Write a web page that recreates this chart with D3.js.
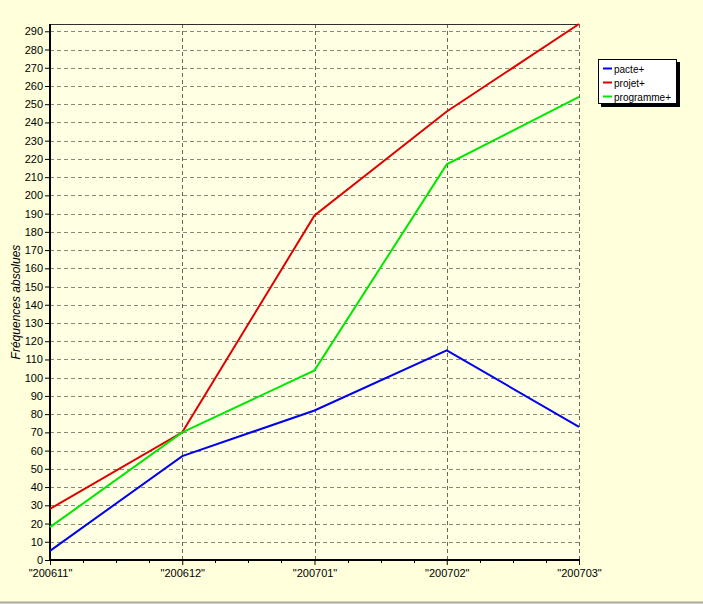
<!DOCTYPE html>
<html>
<head>
<meta charset="utf-8">
<script src="https://cdn.jsdelivr.net/npm/d3@7"></script>
<style>
  html, body { margin: 0; padding: 0; background: #ffffdc; }
  svg { display: block; font-family: "Liberation Sans", Arial, sans-serif; }
</style>
</head>
<body>
<svg id="chart" width="703" height="604"></svg>
<script>
const categories = ['"200611"', '"200612"', '"200701"', '"200702"', '"200703"'];
const seriesNames = ["pacte+", "projet+", "programme+"];
const seriesColors = ["#0000ee", "#e00000", "#00e800"];
const pacteValues = [5, 57, 82, 115, 73];
const projetValues = [28, 70, 189, 246, 294];
const programmeValues = [18, 70, 104, 217, 254];
const yTicks = d3.range(0, 291, 10);
const yLabel = "Fréquences absolues";

const series = [pacteValues, projetValues, programmeValues].map((v, i) => ({
  name: seriesNames[i], color: seriesColors[i], values: v
}));

const svg = d3.select("#chart");
const W = 703, H = 604;
const m = { left: 50, right: 579, top: 24, bottom: 560 };

svg.append("rect").attr("width", W).attr("height", H).attr("fill", "#ffffdc");
svg.append("line").attr("x1", 0).attr("x2", W).attr("y1", 602.5).attr("y2", 602.5)
  .attr("stroke", "#a8a8a0").attr("stroke-width", 2);

const x = d3.scalePoint().domain(categories).range([m.left, m.right]);
const y = d3.scaleLinear().domain([0, 294]).range([m.bottom, m.top]);

// plot area
svg.append("rect").attr("x", m.left).attr("y", m.top)
  .attr("width", m.right - m.left).attr("height", m.bottom - m.top)
  .attr("fill", "#ffffe4");

// horizontal grid
svg.append("g").selectAll("line").data(yTicks.filter(d => d > 0)).join("line")
  .attr("x1", m.left).attr("x2", m.right)
  .attr("y1", d => Math.round(y(d)) + 0.5).attr("y2", d => Math.round(y(d)) + 0.5)
  .attr("stroke", "#8a8a78").attr("stroke-dasharray", "4,3");

// vertical grid
svg.append("g").selectAll("line").data(categories.slice(1)).join("line")
  .attr("x1", d => Math.round(x(d)) + 0.5).attr("x2", d => Math.round(x(d)) + 0.5)
  .attr("y1", m.top).attr("y2", m.bottom)
  .attr("stroke", "#6a6a5a").attr("stroke-dasharray", "4,3");

// top border
svg.append("line").attr("x1", m.left).attr("x2", m.right)
  .attr("y1", m.top + 0.5).attr("y2", m.top + 0.5).attr("stroke", "#303030");

// y axis
const yAxis = d3.axisLeft(y).tickValues(yTicks).tickSize(5).tickPadding(2);
const gy = svg.append("g").attr("transform", `translate(${m.left},0)`).call(yAxis);
gy.select(".domain").remove();
gy.selectAll("text").attr("font-size", 11).attr("fill", "#000")
  .attr("font-family", "Liberation Sans, Arial, sans-serif");
gy.selectAll(".tick line").attr("stroke", "#000");

// x axis minor ticks
const step = x.step();
const minor = [];
categories.slice(0, -1).forEach(c => { for (let k = 1; k < 4; k++) minor.push(x(c) + step * k / 4); });
svg.append("g").selectAll("line").data(minor).join("line")
  .attr("x1", d => Math.round(d) + 0.5).attr("x2", d => Math.round(d) + 0.5)
  .attr("y1", m.bottom).attr("y2", m.bottom + 3).attr("stroke", "#000");

// x axis
const xAxis = d3.axisBottom(x).tickSize(5).tickPadding(4);
const gx = svg.append("g").attr("transform", `translate(0,${m.bottom})`).call(xAxis);
gx.select(".domain").remove();
gx.selectAll("text").attr("font-size", 11).attr("fill", "#000")
  .attr("font-family", "Liberation Sans, Arial, sans-serif");
gx.selectAll(".tick line").attr("stroke", "#000");

// axis lines
svg.append("line").attr("x1", m.left).attr("x2", m.left).attr("y1", m.top).attr("y2", m.bottom + 1)
  .attr("stroke", "#000").attr("stroke-width", 2);
svg.append("line").attr("x1", m.left - 1).attr("x2", m.right + 1).attr("y1", m.bottom).attr("y2", m.bottom)
  .attr("stroke", "#000").attr("stroke-width", 2);

// y label
svg.append("text").attr("transform", `translate(20,302) rotate(-90)`)
  .attr("text-anchor", "middle").attr("font-size", 12).attr("font-style", "italic")
  .text(yLabel);

// lines
const line = d3.line().x((d, i) => x(categories[i])).y(d => y(d));
svg.append("g").selectAll("path").data(series).join("path")
  .attr("d", d => line(d.values)).attr("fill", "none")
  .attr("stroke", d => d.color).attr("stroke-width", 2);

// legend
const lg = svg.append("g").attr("transform", "translate(598,59)");
lg.append("rect").attr("x", 3).attr("y", 3).attr("width", 79).attr("height", 45).attr("fill", "#000");
lg.append("rect").attr("x", 0.5).attr("y", 0.5).attr("width", 78).attr("height", 44)
  .attr("fill", "#fff").attr("stroke", "#000");
series.forEach((s, i) => {
  const yy = 9.5 + i * 14;
  lg.append("line").attr("x1", 5).attr("x2", 14).attr("y1", yy).attr("y2", yy)
    .attr("stroke", s.color).attr("stroke-width", 2);
  lg.append("text").attr("x", 16).attr("y", yy + 4).attr("font-size", 10).text(s.name);
});
</script>
</body>
</html>
